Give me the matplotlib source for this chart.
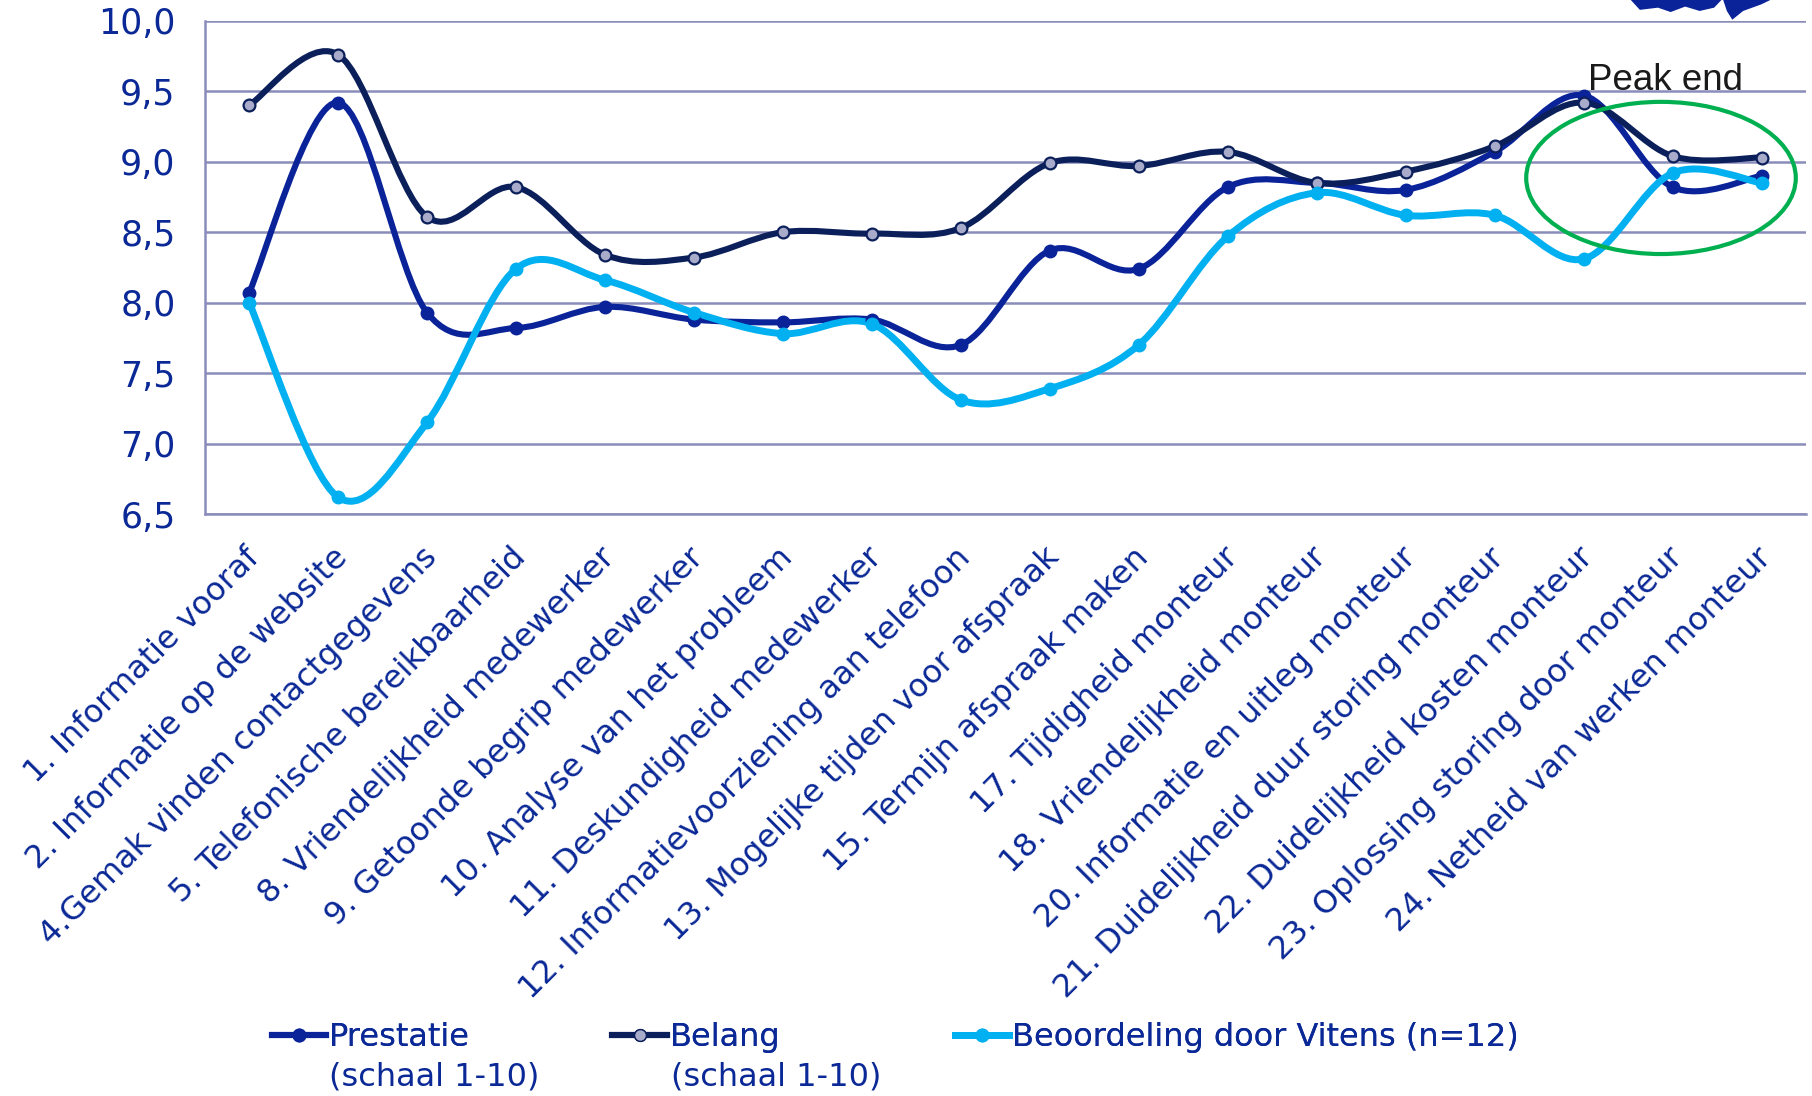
import numpy as np
import matplotlib
matplotlib.use('Agg')
import matplotlib.pyplot as plt
from matplotlib.path import Path
from matplotlib.patches import PathPatch, Ellipse
from matplotlib.lines import Line2D

categories = [
    '1. Informatie vooraf',
    '2. Informatie op de website',
    '4.Gemak vinden contactgegevens',
    '5. Telefonische bereikbaarheid',
    '8. Vriendelijkheid medewerker',
    '9. Getoonde begrip medewerker',
    '10. Analyse van het probleem',
    '11. Deskundigheid medewerker',
    '12. Informatievoorziening aan telefoon',
    '13. Mogelijke tijden voor afspraak',
    '15. Termijn afspraak maken',
    '17. Tijdigheid monteur',
    '18. Vriendelijkheid monteur',
    '20. Informatie en uitleg monteur',
    '21. Duidelijkheid duur storing monteur',
    '22. Duidelijkheid kosten monteur',
    '23. Oplossing storing door monteur',
    '24. Netheid van werken monteur',
]

prestatie = [8.07, 9.42, 7.93, 7.82, 7.97, 7.88, 7.86, 7.88, 7.70,
             8.37, 8.24, 8.82, 8.85, 8.80, 9.07, 9.47, 8.82, 8.90]
belang = [9.40, 9.76, 8.61, 8.82, 8.34, 8.32, 8.50, 8.49, 8.53,
          8.99, 8.97, 9.07, 8.85, 8.93, 9.11, 9.42, 9.04, 9.03]
vitens = [8.00, 6.62, 7.15, 8.24, 8.16, 7.93, 7.78, 7.85, 7.31,
          7.39, 7.70, 8.47, 8.78, 8.62, 8.62, 8.31, 8.92, 8.85]

yticks = [6.5, 7.0, 7.5, 8.0, 8.5, 9.0, 9.5, 10.0]

TXT = '#0A2896'
C_PRES = '#0A2399'
C_BEL = '#0B1F5A'
C_VIT = '#00B0F0'
C_GRID = '#8A8DBA'


def smooth_path(x, y):
    # smoothed line: cubic Bezier segments, control points from neighbours
    pts = np.column_stack([x, y]).astype(float)
    n = len(pts)
    verts = [pts[0]]
    codes = [Path.MOVETO]
    for i in range(n - 1):
        p0 = pts[i - 1] if i > 0 else pts[i]
        p1 = pts[i]
        p2 = pts[i + 1]
        p3 = pts[i + 2] if i + 2 < n else pts[i + 1]
        c1 = p1 + (p2 - p0) / 6.0
        c2 = p2 - (p3 - p1) / 6.0
        verts += [c1, c2, p2]
        codes += [Path.CURVE4] * 3
    return Path(verts, codes)


fig = plt.figure(figsize=(18.12, 10.96), dpi=100)
ax = fig.add_axes([0.1129, 0.531, 0.8838, 0.450])

x = np.arange(len(categories))

styles = [
    (prestatie, C_PRES, 4.4, dict(marker='o', ms=9, mfc=C_PRES, mec=C_PRES)),
    (belang, C_BEL, 4.4, dict(marker='o', ms=8.5, mfc='#A9ABCB', mec=C_BEL, mew=1.6)),
    (vitens, C_VIT, 5.0, dict(marker='o', ms=9, mfc=C_VIT, mec=C_VIT)),
]
for vals, col, lw, mk in styles:
    ax.add_patch(PathPatch(smooth_path(x, vals), fill=False, edgecolor=col,
                           lw=lw, capstyle='round', joinstyle='round', zorder=3))
    ax.plot(x, vals, ls='none', zorder=4, **mk)

ax.set_xlim(-0.5, len(categories) - 0.5)
ax.set_ylim(6.5, 10.0)
ax.set_yticks(yticks)
ax.set_yticklabels([f'{v:.1f}'.replace('.', ',') for v in yticks])
ax.yaxis.grid(True, color=C_GRID, lw=1.8)
ax.set_axisbelow(True)
for s in ['top', 'right']:
    ax.spines[s].set_visible(False)
for s in ['left', 'bottom']:
    ax.spines[s].set_color(C_GRID)
    ax.spines[s].set_linewidth(1.8)
ax.tick_params(axis='y', length=0, pad=21, labelsize=25, labelcolor=TXT)
ax.tick_params(axis='x', length=0, pad=28)

ax.set_xticks(x + 0.06)
ax.set_xticklabels(categories, rotation=45, ha='right', va='center',
                   rotation_mode='anchor', fontsize=23, color=TXT)

# peak-end annotation
ax.add_patch(Ellipse((15.87, 8.885), 3.03, 1.08, fill=False, edgecolor='#00B050',
                     lw=3, zorder=5))
ax.text(15.05, 9.51, 'Peak end', fontsize=26.5, color='#1A1A1A',
        family='Liberation Sans', ha='left', va='baseline', zorder=6)

# edge of the logo at the top right
logo = Path([(0.900, 1.0), (0.905, 0.991), (0.915, 0.993), (0.922, 0.989),
             (0.930, 0.994), (0.938, 0.990), (0.946, 0.993), (0.950, 1.0),
             (0.951, 1.0), (0.953, 0.990), (0.956, 0.982), (0.962, 0.990),
             (0.972, 0.996), (0.977, 1.0), (0.900, 1.0)])
fig.patches.append(PathPatch(logo, transform=fig.transFigure, color=C_PRES, lw=0))

handles = [
    Line2D([], [], color=C_PRES, lw=4.4, marker='o', ms=9, mfc=C_PRES, mec=C_PRES),
    Line2D([], [], color=C_BEL, lw=4.4, marker='o', ms=8.5, mfc='#A9ABCB', mec=C_BEL),
    Line2D([], [], color=C_VIT, lw=5.0, marker='o', ms=9, mfc=C_VIT, mec=C_VIT),
]
labels = ['Prestatie', 'Belang', 'Beoordeling door Vitens (n=12)']
leg_x = [0.1499, 0.3380, 0.5268]
for h, lab, lx in zip(handles, labels, leg_x):
    leg = fig.legend([h], [lab], loc='center left', bbox_to_anchor=(lx, 0.0532),
                     frameon=False, fontsize=23, handlelength=1.7,
                     handletextpad=0.1, borderpad=0, borderaxespad=0,
                     labelcolor=TXT)
    fig.add_artist(leg)

for tx in [0.1817, 0.3705]:
    fig.text(tx, 0.0173, '(schaal 1-10)', fontsize=23, color=TXT,
             ha='left', va='center')

fig.savefig('out.png', dpi=100)
